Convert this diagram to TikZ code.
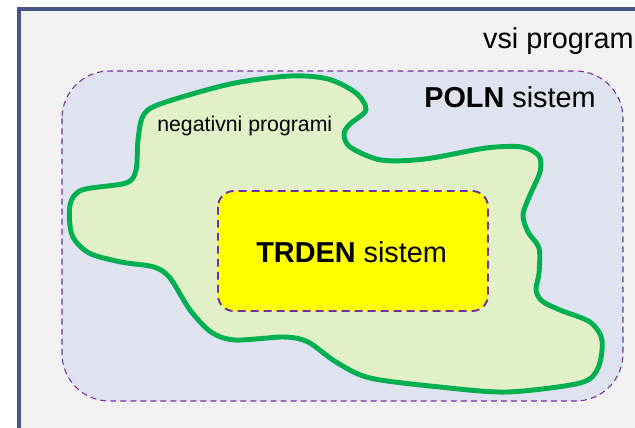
\documentclass[tikz,border=0pt]{standalone}
\usepackage{fontspec}
\setmainfont{Liberation Sans}

\definecolor{framecol}{RGB}{71,85,135}
\definecolor{canvascol}{RGB}{242,242,242}
\definecolor{polnfill}{RGB}{223,227,240}
\definecolor{negfill}{RGB}{226,240,200}
\definecolor{negline}{RGB}{0,176,80}
\definecolor{purplecol}{RGB}{112,48,160}
\definecolor{trdenfill}{RGB}{255,255,0}

\tikzset{
  polnbox/.style={fill=polnfill, draw=purplecol, line width=0.6pt, dash pattern=on 3.4pt off 2.3pt, rounded corners=27pt},
  trdenbox/.style={fill=trdenfill, draw=purplecol, line width=1.1pt, dash pattern=on 4.5pt off 2.9pt, rounded corners=9pt},
  negblob/.style={fill=negfill, draw=negline, line width=2.8pt, line join=round},
  bigtxt/.style={inner sep=0pt, font=\fontsize{16.4}{19}\selectfont},
  smalltxt/.style={inner sep=0pt, font=\fontsize{12.1}{14}\selectfont}
}

\begin{document}
\begin{tikzpicture}[x=0.02cm, y=-0.02cm]

  \useasboundingbox (0,0) rectangle (635,427);
  \clip (0,0) rectangle (635,427);
  \fill[white] (0,0) rectangle (635,427);

	%all programs
  \draw[fill=canvascol, draw=framecol, line width=2pt] (19,9) rectangle (680,470);
  \node[bigtxt, anchor=base east] (vsi) at (634,48) {vsi program};

	%complete system
  \draw[polnbox] (62,71) rectangle (623,401);
  \node[bigtxt, anchor=base west] (poln) at (424,107) {\textbf{POLN} sistem};

	%negative programs
  \draw[negblob] plot[smooth cycle, tension=0.5] coordinates {
    (138,140) (143,116) (160,104) (230,84) (290,76) (328,79) (356,93) (366,110)
    (350,124) (344,134) (350,147) (381,160) (425,159) (486,148) (522,147)
    (539,156) (540,172) (530,195) (523,215) (528,232) (539,248) (539,273)
    (536,290) (542,301) (560,310) (590,322) (602,340) (598,368) (580,383)
    (507,392) (440,387) (370,378) (336,362) (308,342) (284,337) (235,340)
    (211,332) (190,310) (170,278) (154,267) (121,262) (89,253) (72,235) (70,205)
    (82,190) (126,183) (136,170) };
  \node[smalltxt, anchor=base west] (neg) at (157,131) {negativni programi};

	%sound system
  \draw[trdenbox] (218,191) rectangle (488,311);
  \node[bigtxt, anchor=base west] (trden) at (256,262) {\textbf{TRDEN} sistem};

\end{tikzpicture}
\end{document}
